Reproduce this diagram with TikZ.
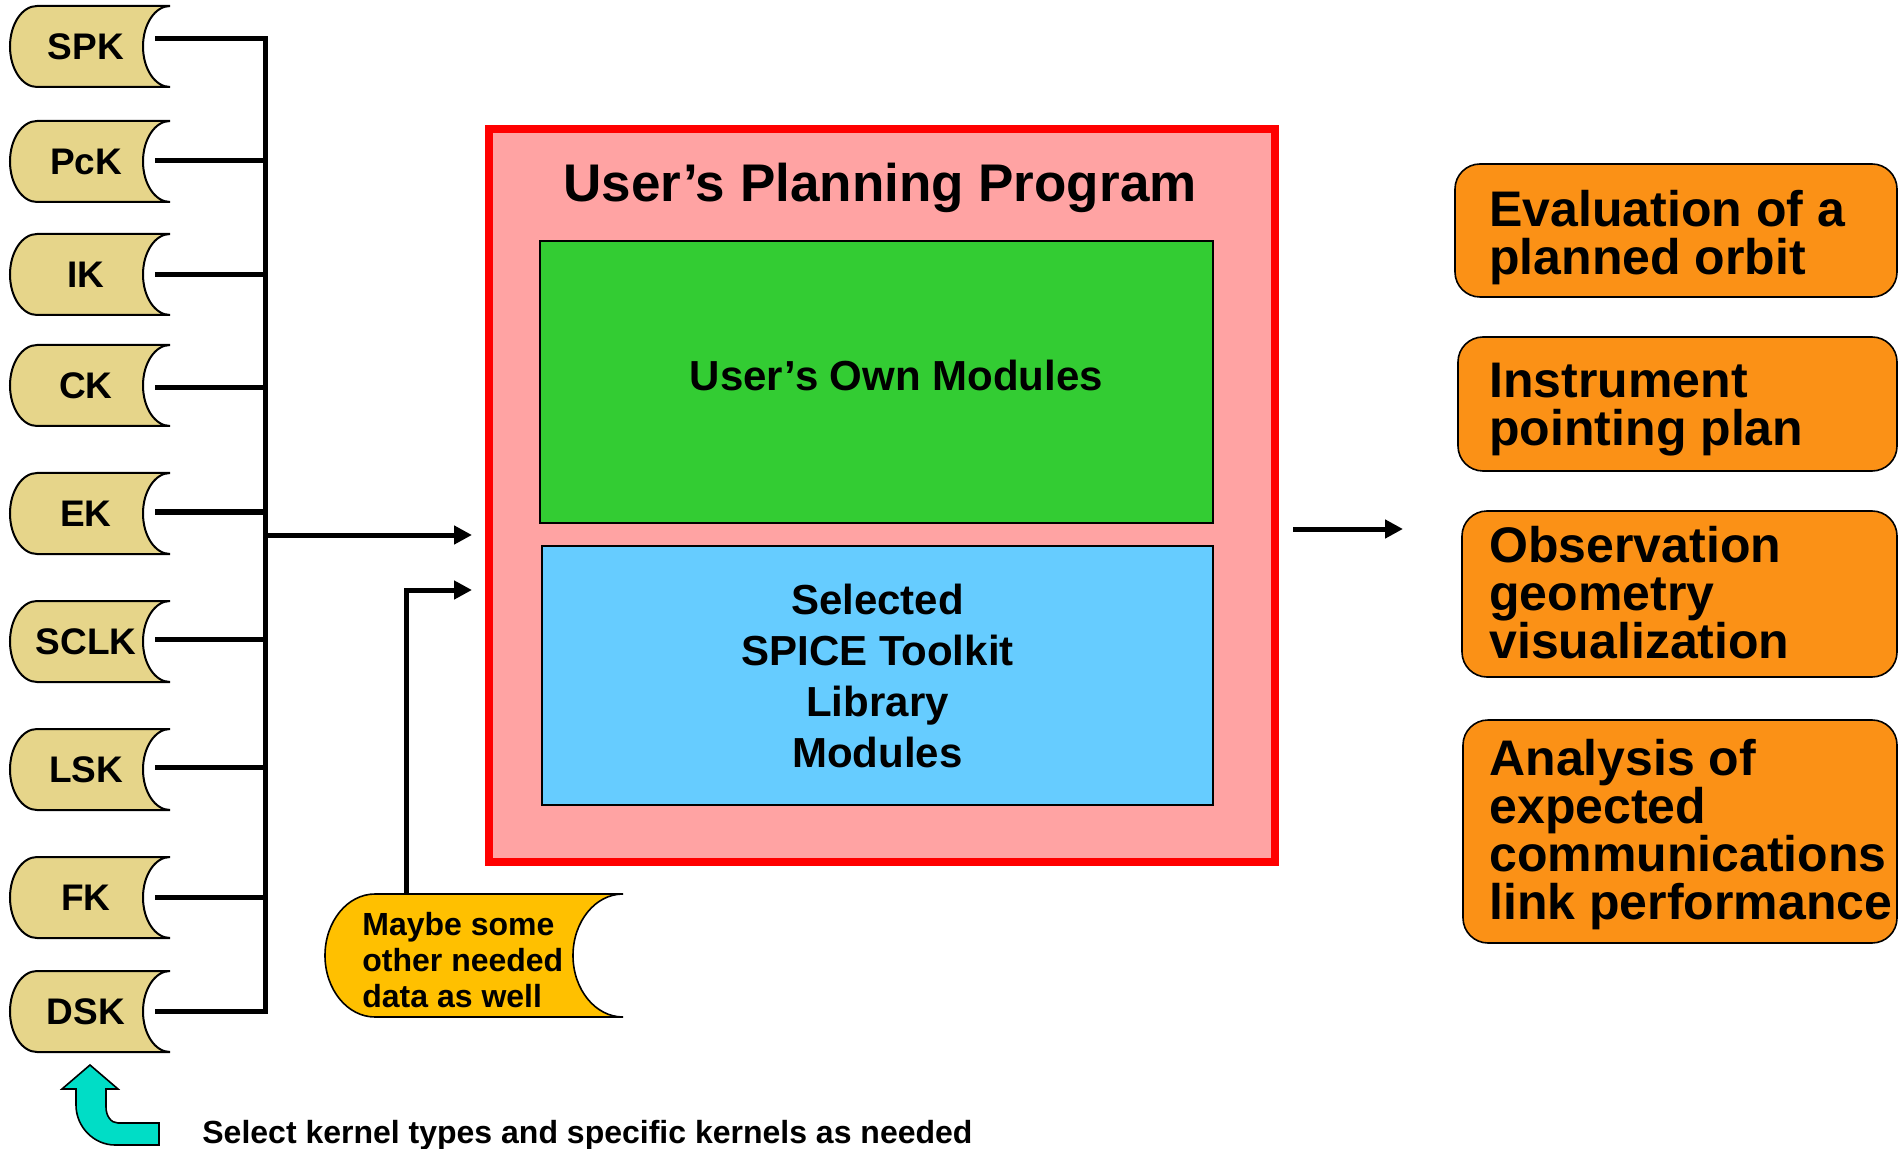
\documentclass[tikz,border=0pt]{standalone}
\usepackage{fontspec}
\setmainfont{Liberation Sans}
\usepackage{tikz}
\usetikzlibrary{arrows.meta,positioning}
\definecolor{kernelTan}{HTML}{E6D58A}
\definecolor{otherGold}{HTML}{FFC000}
\definecolor{progPink}{HTML}{FFA3A3}
\definecolor{progRed}{HTML}{FF0000}
\definecolor{ownGreen}{HTML}{33CC33}
\definecolor{libBlue}{HTML}{66CCFF}
\definecolor{outOrange}{HTML}{FB9116}
\definecolor{pickCyan}{HTML}{00DDC6}

\begin{document}
\begin{tikzpicture}[x=0.5pt,y=-0.5pt,
    >={Triangle[length=9pt,width=9pt]},
    wire/.style={line width=2.5pt},
    kscroll/.style={draw=black,line width=1pt,fill=kernelTan},
    klabel/.style={font=\fontsize{18.5}{20}\selectfont\bfseries},
    modbox/.style={draw=black,line width=1.25pt,
        font=\fontsize{21}{25.5}\selectfont\bfseries},
    outbox/.style={draw=black,line width=0.8pt,fill=outOrange,rounded corners=12.5pt},
    outtext/.style={anchor=west,inner sep=0pt,align=left,text depth=0pt,
        font=\fontsize{25}{24}\selectfont\bfseries}]
    \useasboundingbox (0,0) rectangle (1899,1149);

    % Kernel files
    \foreach \kname/\ktop/\kline in {SPK/6/39,PcK/121/161,IK/234/275,CK/345/388,
        EK/473/512,SCLK/601/639,LSK/729/767,FK/857/897,DSK/971/1011} {
        \draw[kscroll] (37,\ktop) arc[start angle=270,end angle=90,x radius=27,y radius=40.5]
            -- (170,\ktop+81) arc[start angle=90,end angle=270,x radius=27,y radius=40.5] -- cycle;
        \node[klabel] (k-\kname) at (86,\ktop+40.5) {\kname};
        \coordinate (k-\kname-e) at (155,\kline);
    }

    % Bus into the program
    \coordinate (busMid) at (265,535);
    \coordinate (inA) at (472,535);
    \draw[wire] (k-SPK-e) -| (busMid) |- (k-DSK-e);
    \foreach \kname in {PcK,IK,CK,EK,SCLK,LSK,FK} {
        \draw[wire] (k-\kname-e) -- (k-\kname-e -| busMid);
    }
    \draw[wire,->] (busMid) -- (inA);

    % Other data
    \draw[draw=black,line width=0.8pt,fill=otherGold] (375,894)
        arc[start angle=270,end angle=90,x radius=50,y radius=61.5]
        -- (623,1017) arc[start angle=90,end angle=270,x radius=50,y radius=61.5] -- cycle;
    \node[anchor=north west,inner sep=0pt,align=left,
        font=\fontsize{16}{18}\selectfont\bfseries] (other) at (362,912)
        {Maybe some\\other needed\\data as well};
    \coordinate (other-n) at (406,894);
    \coordinate (inB) at (472,590);
    \draw[wire,->] (other-n) |- (inB);

    % Planning program
    \node[draw=progRed,line width=4pt,fill=progPink,minimum width=393pt,
        minimum height=366.5pt] (prog) at (882,495.5) {};
    \node[anchor=base,font=\fontsize{26.5}{30}\selectfont\bfseries] (title) at (880,202)
        {User’s Planning Program};
    \node[modbox,fill=ownGreen,minimum width=336.5pt,minimum height=141pt] (own)
        at (876.5,382) {};
    \node[font=\fontsize{21}{25.5}\selectfont\bfseries] (own-t)
        at ([xshift=10pt,yshift=3.5pt]own.center) {User’s Own Modules};
    \node[modbox,fill=libBlue,minimum width=335.5pt,minimum height=129.5pt,align=center] (lib)
        at (877.5,675.5) {Selected\\SPICE Toolkit\\Library\\Modules};

    % Products
    \coordinate (outA) at (1293,529);
    \coordinate (outB) at (1403,529);
    \draw[wire,->] (outA) -- (outB);
    \node[outbox,minimum width=221pt,minimum height=66.5pt] (out1) at (1676,230.5) {};
    \node[outbox,minimum width=219.5pt,minimum height=67pt] (out2) at (1677.5,404) {};
    \node[outbox,minimum width=217.5pt,minimum height=83pt] (out3) at (1679.5,594) {};
    \node[outbox,minimum width=217pt,minimum height=111.5pt] (out4) at (1680,831.5) {};
    \node[outtext] (out1-t) at (1489,232) {Evaluation of a\\planned orbit};
    \node[outtext] (out2-t) at (1489,404) {Instrument\\pointing plan};
    \node[outtext] (out3-t) at (1489,592) {Observation\\geometry\\visualization};
    \node[outtext] (out4-t) at (1489,829) {Analysis of\\expected\\communications\\link performance};

    % Selection hint
    \draw[draw=black,line width=0.8pt,fill=pickCyan] (90,1065) -- (118,1089) -- (106,1089)
        -- (106,1107) .. controls (106,1116) and (111,1123) .. (118,1123) -- (159,1123)
        -- (159,1145) -- (115,1145) .. controls (94,1145) and (76,1127) .. (76,1105)
        -- (76,1089) -- (62,1089) -- cycle;
    \node[anchor=base west,inner sep=0pt,font=\fontsize{16}{18}\selectfont\bfseries] (hint)
        at (202,1143) {Select kernel types and specific kernels as needed};
\end{tikzpicture}
\end{document}
